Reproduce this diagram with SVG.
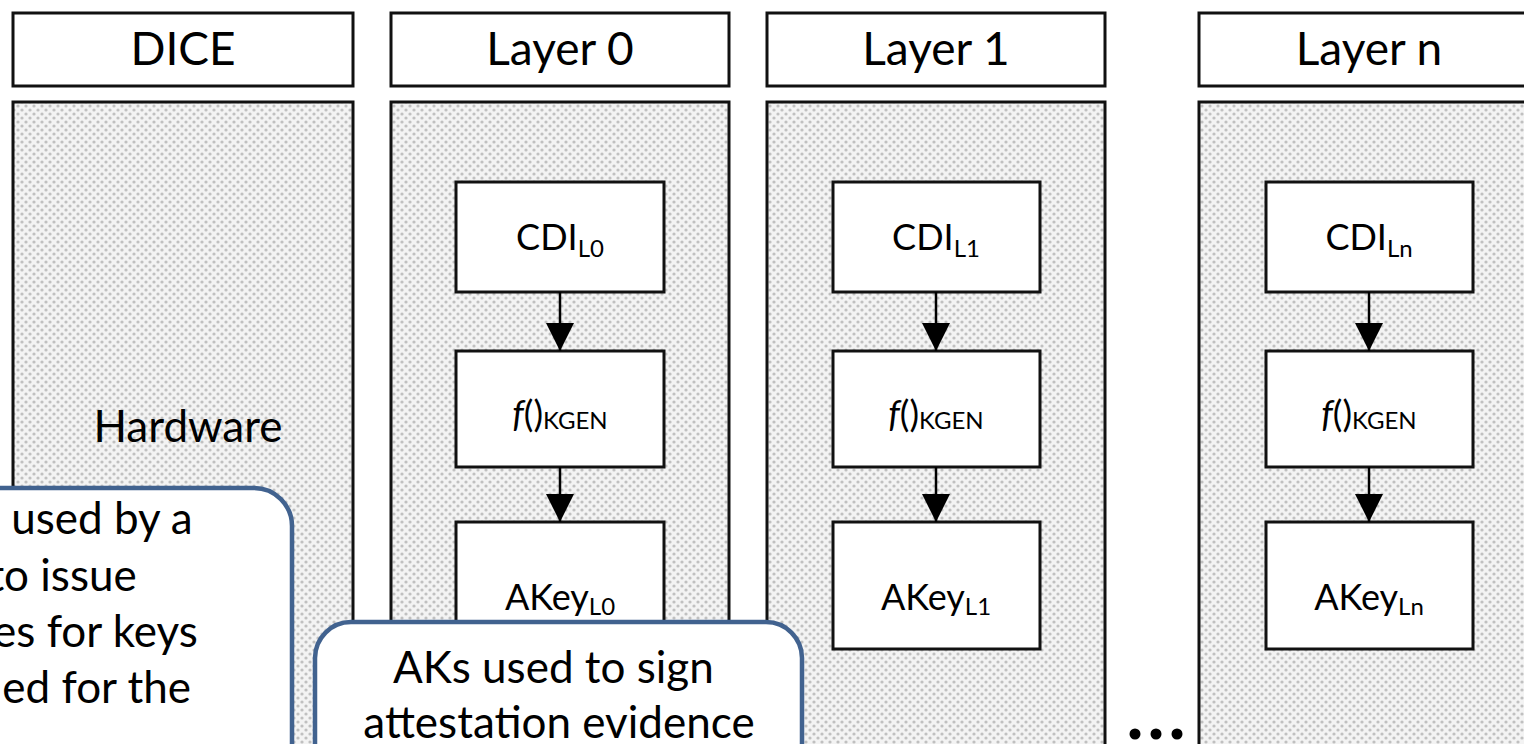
<svg xmlns="http://www.w3.org/2000/svg" width="1524" height="744" viewBox="0 0 1524 744">
  <defs>
    <pattern id="dots" width="8" height="8" patternUnits="userSpaceOnUse">
      <rect width="8" height="8" fill="#f3f3f3"/>
      <circle cx="2" cy="2" r="1.6" fill="#c0c0c0"/>
      <circle cx="6" cy="6" r="1.6" fill="#c0c0c0"/>
    </pattern>
    <marker id="arrow" markerUnits="userSpaceOnUse" markerWidth="28" markerHeight="28" refX="28" refY="14" orient="auto">
      <path d="M0,0 L28,14 L0,28 Z" fill="#000"/>
    </marker>
    <style>
      .head { fill: #fff; stroke: #111; stroke-width: 3; }
      .body { fill: url(#dots); stroke: #111; stroke-width: 3; }
      .box { fill: #fff; stroke: #111; stroke-width: 3; }
      .title { font-family: Lato, "Liberation Sans", sans-serif; font-size: 46px; fill: #000; text-anchor: middle; }
      .lbl { font-family: Lato, "Liberation Sans", sans-serif; font-size: 36px; fill: #000; text-anchor: middle; }
      .sub { font-size: 24px; }
      .conn { stroke: #000; stroke-width: 2.5; fill: none; marker-end: url(#arrow); }
      .callout { fill: #fff; stroke: #41628f; stroke-width: 4.5; }
      .note { font-family: Lato, "Liberation Sans", sans-serif; font-size: 44px; fill: #000; }
    </style>
  </defs>

  <rect width="1524" height="744" fill="#fff"/>

  <!-- DICE column -->
  <g id="dice">
    <rect class="head" x="13" y="13" width="340" height="73"/>
    <text class="title" x="183" y="65">DICE</text>
    <rect class="body" x="13" y="102" width="340" height="700"/>
    <text class="title" x="188" y="442" style="font-size:44px">Hardware</text>
  </g>

  <!-- Layer 0 column -->
  <g id="layer0">
    <rect class="head" x="391" y="13" width="338" height="73"/>
    <text class="title" x="560" y="65">Layer 0</text>
    <rect class="body" x="391" y="102" width="338" height="700"/>
  </g>
  <g id="cdi-l0">
    <rect class="box" x="456" y="182" width="208" height="110"/>
    <text class="lbl" x="560" y="250">CDI<tspan class="sub" dy="7">L0</tspan></text>
  </g>
  <g id="kgen-l0">
    <rect class="box" x="456" y="351" width="208" height="116"/>
    <text class="lbl" x="560" y="427"><tspan font-style="italic">f</tspan>()<tspan class="sub" dy="2">KGEN</tspan></text>
  </g>
  <g id="akey-l0">
    <rect class="box" x="456" y="522" width="208" height="127"/>
    <text class="lbl" x="560" y="610">AKey<tspan class="sub" dy="5">L0</tspan></text>
  </g>

  <!-- Layer 1 column -->
  <g id="layer1">
    <rect class="head" x="767" y="13" width="338" height="73"/>
    <text class="title" x="936" y="65">Layer 1</text>
    <rect class="body" x="767" y="102" width="338" height="700"/>
  </g>
  <g id="cdi-l1">
    <rect class="box" x="833" y="182" width="207" height="110"/>
    <text class="lbl" x="936" y="250">CDI<tspan class="sub" dy="7">L1</tspan></text>
  </g>
  <g id="kgen-l1">
    <rect class="box" x="833" y="351" width="207" height="116"/>
    <text class="lbl" x="936" y="427"><tspan font-style="italic">f</tspan>()<tspan class="sub" dy="2">KGEN</tspan></text>
  </g>
  <g id="akey-l1">
    <rect class="box" x="833" y="522" width="207" height="127"/>
    <text class="lbl" x="936" y="610">AKey<tspan class="sub" dy="5">L1</tspan></text>
  </g>

  <!-- Layer n column -->
  <g id="layern">
    <rect class="head" x="1199" y="13" width="338" height="73"/>
    <text class="title" x="1369" y="65">Layer n</text>
    <rect class="body" x="1199" y="102" width="338" height="700"/>
  </g>
  <g id="cdi-ln">
    <rect class="box" x="1266" y="182" width="207" height="110"/>
    <text class="lbl" x="1369" y="250">CDI<tspan class="sub" dy="7">Ln</tspan></text>
  </g>
  <g id="kgen-ln">
    <rect class="box" x="1266" y="351" width="207" height="116"/>
    <text class="lbl" x="1369" y="427"><tspan font-style="italic">f</tspan>()<tspan class="sub" dy="2">KGEN</tspan></text>
  </g>
  <g id="akey-ln">
    <rect class="box" x="1266" y="522" width="207" height="127"/>
    <text class="lbl" x="1369" y="610">AKey<tspan class="sub" dy="5">Ln</tspan></text>
  </g>

  <!-- ellipsis between Layer 1 and Layer n -->
  <g id="ellipsis" fill="#000">
    <circle cx="1135" cy="734" r="5.5"/>
    <circle cx="1156" cy="734" r="5.5"/>
    <circle cx="1177" cy="734" r="5.5"/>
  </g>

  <!-- connectors -->
  <g id="connectors">
    <line class="conn" x1="560" y1="292" x2="560" y2="351"/>
    <line class="conn" x1="560" y1="467" x2="560" y2="522"/>
    <line class="conn" x1="936" y1="292" x2="936" y2="351"/>
    <line class="conn" x1="936" y1="467" x2="936" y2="522"/>
    <line class="conn" x1="1369" y1="292" x2="1369" y2="351"/>
    <line class="conn" x1="1369" y1="467" x2="1369" y2="522"/>
  </g>

  <!-- callouts -->
  <g id="callout-dice">
    <rect class="callout" x="-60" y="488" width="352" height="320" rx="38"/>
    <text class="note" text-anchor="end">
      <tspan x="204" y="534">s used by a</tspan>
      <tspan x="148" y="591">to issue</tspan>
      <tspan x="209" y="647">es for keys</tspan>
      <tspan x="191" y="703">ed for the</tspan>
    </text>
  </g>
  <g id="callout-ak">
    <rect class="callout" x="315" y="622" width="487" height="200" rx="36"/>
    <text class="note" text-anchor="middle">
      <tspan x="559" y="683">AKs used to sign</tspan>
      <tspan x="559" y="738">attestation evidence</tspan>
    </text>
  </g>
</svg>
